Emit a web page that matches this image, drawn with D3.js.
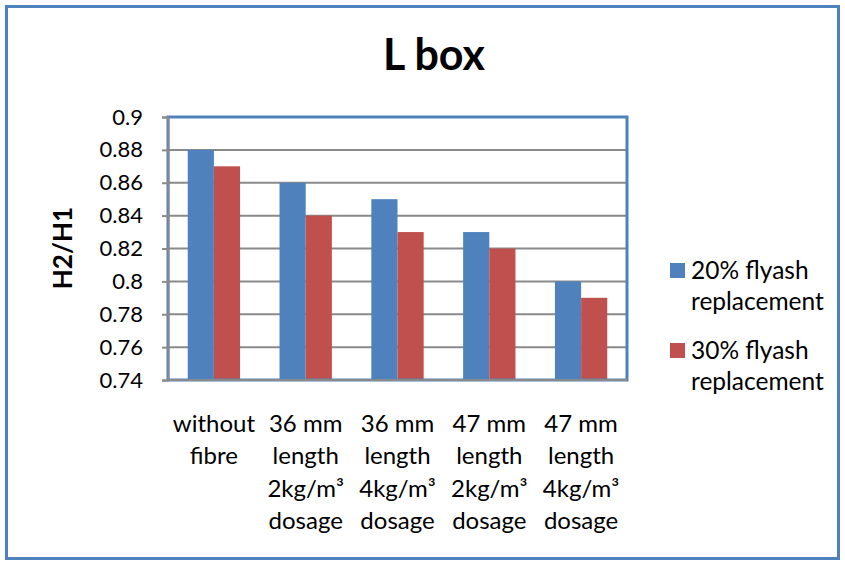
<!DOCTYPE html>
<html>
<head>
<meta charset="utf-8">
<script src="https://cdn.jsdelivr.net/npm/d3@7"></script>
<style>
  html, body { margin: 0; padding: 0; background: #fff; }
  svg { display: block; }
  text { font-family: Lato, "Open Sans", sans-serif; fill: #000; }
</style>
</head>
<body>
<svg id="chart" width="845" height="565"></svg>
<script>
// L box test results: H2/H1 ratio per fibre mix
const categories = [
  ["without", "fibre"],
  ["36 mm", "length", "2kg/m³", "dosage"],
  ["36 mm", "length", "4kg/m³", "dosage"],
  ["47 mm", "length", "2kg/m³", "dosage"],
  ["47 mm", "length", "4kg/m³", "dosage"]
];
const seriesNames = [["20% flyash", "replacement"], ["30% flyash", "replacement"]];
const flyash20 = [0.88, 0.86, 0.85, 0.83, 0.80];
const flyash30 = [0.87, 0.84, 0.83, 0.82, 0.79];
const yTicks = [0.74, 0.76, 0.78, 0.8, 0.82, 0.84, 0.86, 0.88, 0.9];
const colors = ["#4f81bd", "#c0504d"];

const svg = d3.select("#chart");
const W = 845, H = 565;

// outer chart frame
svg.append("rect")
  .attr("x", 6.5).attr("y", 6.5)
  .attr("width", W - 13).attr("height", H - 13)
  .attr("fill", "#fff").attr("stroke", "#4f81bd").attr("stroke-width", 3);

const plot = { left: 168, top: 117, right: 627, bottom: 380 };

const x0 = d3.scaleBand()
  .domain(d3.range(categories.length))
  .range([plot.left, plot.right])
  .paddingInner(0.43).paddingOuter(0.215);
const x1 = d3.scaleBand()
  .domain([0, 1])
  .range([0, x0.bandwidth()]);
const y = d3.scaleLinear()
  .domain([0.74, 0.9])
  .range([plot.bottom, plot.top]);

// title
svg.append("text")
  .attr("x", 434).attr("y", 70)
  .attr("text-anchor", "middle")
  .style("font-size", "43px").style("font-weight", "bold")
  .text("L box");

// horizontal gridlines
svg.append("g")
  .selectAll("line")
  .data(yTicks)
  .join("line")
  .attr("x1", plot.left).attr("x2", plot.right)
  .attr("y1", d => y(d)).attr("y2", d => y(d))
  .attr("stroke", "#8a8a8a").attr("stroke-width", 2);

// bars
const seriesData = [flyash20, flyash30];
const groups = svg.append("g")
  .selectAll("g")
  .data(categories.map((c, i) => i))
  .join("g")
  .attr("transform", i => `translate(${x0(i)},0)`);
groups.selectAll("rect")
  .data(i => seriesData.map((s, k) => ({ k, v: s[i] })))
  .join("rect")
  .attr("x", d => x1(d.k))
  .attr("y", d => y(d.v))
  .attr("width", x1.bandwidth())
  .attr("height", d => y(0.74) - y(d.v))
  .attr("fill", d => colors[d.k]);

// plot area border
svg.append("rect")
  .attr("x", plot.left).attr("y", plot.top)
  .attr("width", plot.right - plot.left).attr("height", plot.bottom - plot.top)
  .attr("fill", "none").attr("stroke", "#4f81bd").attr("stroke-width", 3);

// y axis
const yAxis = svg.append("g")
  .attr("transform", `translate(${plot.left},0)`)
  .call(d3.axisLeft(y).tickValues(yTicks).tickSize(6).tickPadding(19)
    .tickFormat(d => String(+d.toFixed(2))));
yAxis.select(".domain").attr("stroke", "#8a8a8a").attr("stroke-width", 2);
yAxis.selectAll(".tick line").attr("stroke", "#8a8a8a").attr("stroke-width", 2);
yAxis.selectAll(".tick text")
  .style("font-size", "22px").style("font-family", "Lato, sans-serif").attr("fill", "#000");

// x axis baseline
svg.append("line")
  .attr("x1", plot.left).attr("x2", plot.right)
  .attr("y1", plot.bottom).attr("y2", plot.bottom)
  .attr("stroke", "#8a8a8a").attr("stroke-width", 2);

// category labels
const catLabels = svg.append("g")
  .selectAll("text")
  .data(categories)
  .join("text")
  .attr("x", (d, i) => x0(i) + x0.bandwidth() / 2)
  .attr("y", 432)
  .attr("text-anchor", "middle")
  .style("font-size", "24px");
catLabels.selectAll("tspan")
  .data(d => d)
  .join("tspan")
  .attr("x", function() { return this.parentNode.getAttribute("x"); })
  .attr("dy", (d, i) => i === 0 ? 0 : 32.3)
  .text(d => d);

// y axis title
svg.append("text")
  .attr("transform", `translate(72,248) rotate(-90)`)
  .attr("text-anchor", "middle")
  .style("font-size", "26px").style("font-weight", "bold")
  .text("H2/H1");

// legend
const legend = svg.append("g");
const legendY = [270, 350];
seriesNames.forEach((lines, k) => {
  legend.append("rect")
    .attr("x", 670).attr("y", legendY[k] - 7)
    .attr("width", 15).attr("height", 15)
    .attr("fill", colors[k]);
  const t = legend.append("text")
    .attr("x", 691).attr("y", legendY[k] + 9)
    .style("font-size", "24.5px");
  lines.forEach((ln, j) => {
    t.append("tspan").attr("x", 691).attr("dy", j === 0 ? 0 : 31).text(ln);
  });
});
</script>
</body>
</html>
